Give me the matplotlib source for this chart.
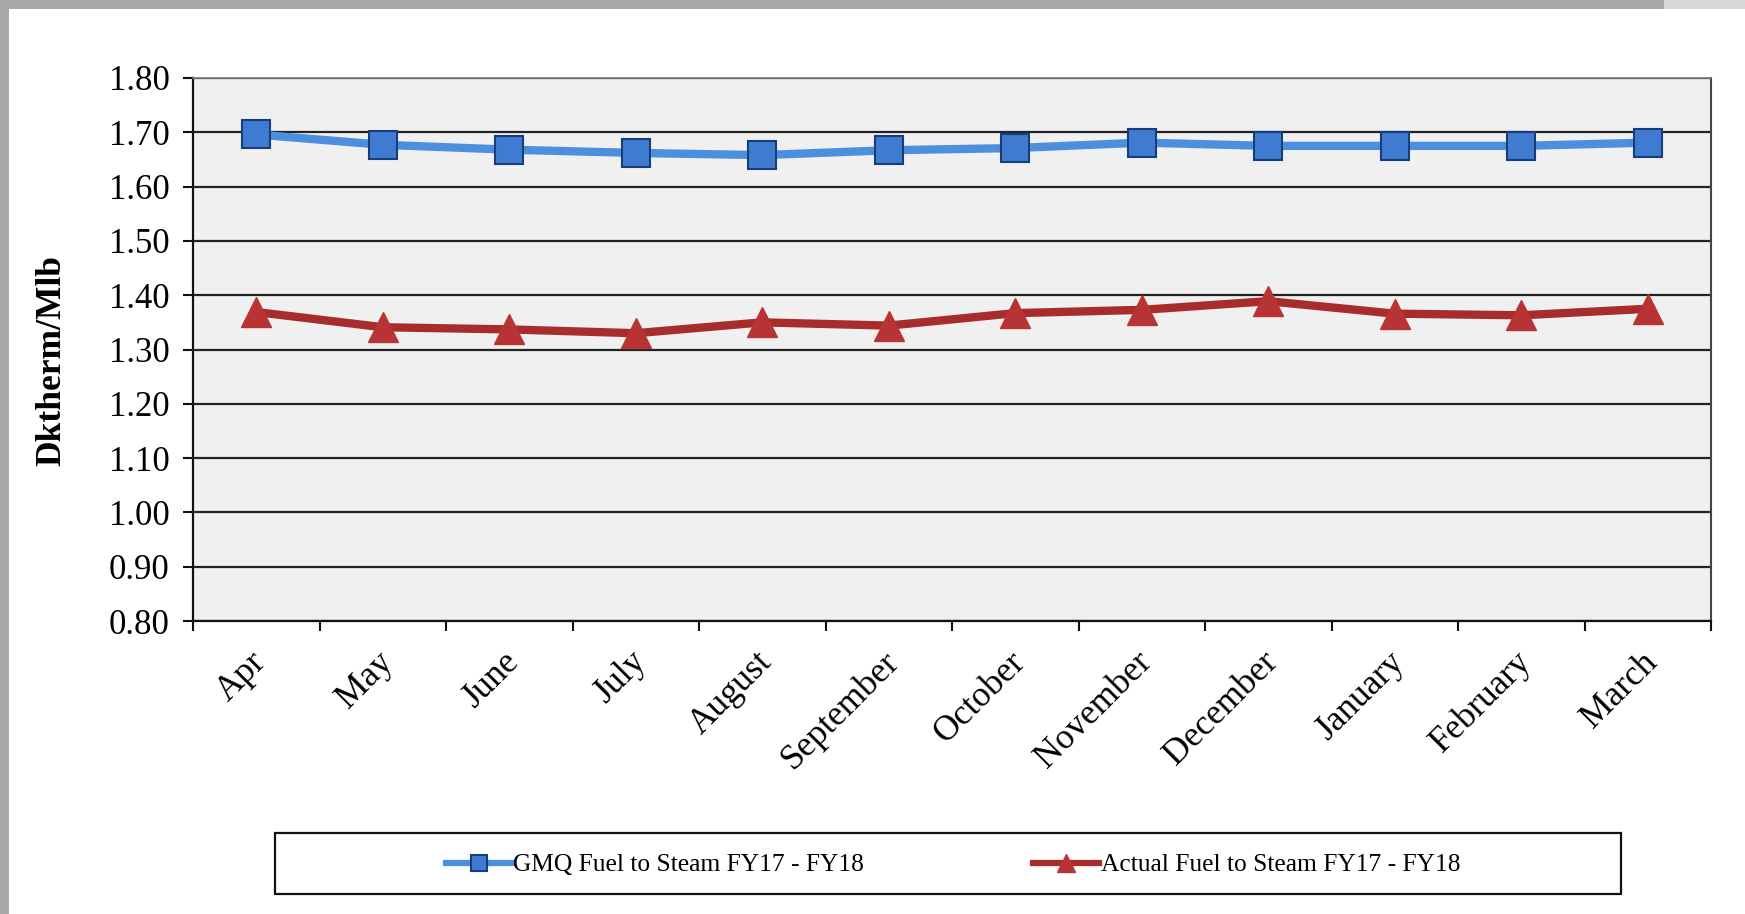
import matplotlib.pyplot as plt
import matplotlib.transforms as mtransforms
from matplotlib.patches import Rectangle

months = ['Apr', 'May', 'June', 'July', 'August', 'September', 'October',
          'November', 'December', 'January', 'February', 'March']
gmq = [1.696, 1.677, 1.668, 1.662, 1.658, 1.667, 1.671, 1.681, 1.675, 1.675, 1.675, 1.681]
actual = [1.369, 1.341, 1.337, 1.330, 1.350, 1.344, 1.367, 1.373, 1.389, 1.366, 1.363, 1.375]
yticks = [0.80, 0.90, 1.00, 1.10, 1.20, 1.30, 1.40, 1.50, 1.60, 1.70, 1.80]

plt.rcParams['font.family'] = ['Liberation Serif', 'DejaVu Serif']

W, H = 1745, 914
fig = plt.figure(figsize=(W / 100, H / 100), dpi=100)
fig.patch.set_facecolor('white')

# grey window border (top and left)
fig.patches.append(Rectangle((0, 1 - 9 / H), 1664 / W, 9 / H, transform=fig.transFigure,
                             facecolor='#a9a9a9', edgecolor='none', zorder=-2))
fig.patches.append(Rectangle((1664 / W, 1 - 9 / H), 1 - 1664 / W, 9 / H, transform=fig.transFigure,
                             facecolor='#d8d8d8', edgecolor='none', zorder=-2))
fig.patches.append(Rectangle((0, 0), 9 / W, 1, transform=fig.transFigure,
                             facecolor='#a9a9a9', edgecolor='none', zorder=-2))

ax = fig.add_axes([193 / W, 1 - 621 / H, (1711 - 193) / W, (621 - 78) / H])
ax.set_facecolor('#f0f0f0')

x = list(range(len(months)))
ax.plot(x, gmq, color='#4d8fdf', lw=6, marker='s', markersize=20,
        markerfacecolor='#3f7bd0', markeredgecolor='#173d7a', markeredgewidth=1.5,
        label='GMQ Fuel to Steam FY17 - FY18', zorder=4)
ax.plot(x, actual, color='#a82c2c', lw=6, marker='^', markersize=22,
        markerfacecolor='#b83434', markeredgecolor='#b83434',
        label='Actual Fuel to Steam FY17 - FY18', zorder=4)

ax.set_xlim(-0.5, len(months) - 0.5)
ax.set_ylim(0.80, 1.80)
ax.set_yticks(yticks)
ax.set_yticklabels([f'{v:.2f}' for v in yticks])
ax.yaxis.grid(True, color='#222222', lw=1.6, zorder=1)
ax.set_axisbelow(True)

# category ticks sit between the months
ax.set_xticks([i - 0.5 for i in range(len(months) + 1)], minor=False)
ax.set_xticklabels([])
ax.set_xticks(x, minor=True)
ax.set_xticklabels(months, minor=True, rotation=45, ha='right', va='center',
                   rotation_mode='anchor', fontsize=25.5)
ax.tick_params(axis='x', which='minor', length=0, pad=26)
offset = mtransforms.ScaledTranslation(5 / 100, 0, fig.dpi_scale_trans)
for lab in ax.get_xticklabels(minor=True):
    lab.set_transform(lab.get_transform() + offset)

ax.tick_params(axis='both', which='major', direction='out', length=7, width=1.5,
               color='#111111', labelsize=25)
ax.tick_params(axis='y', pad=10)

for side in ['left', 'bottom']:
    ax.spines[side].set_color('#111111')
    ax.spines[side].set_linewidth(1.6)
ax.spines['top'].set_color('#777777')
ax.spines['top'].set_linewidth(1.2)
ax.spines['right'].set_color('#444444')
ax.spines['right'].set_linewidth(1.5)

fig.text(52 / W, 1 - 361 / H, 'Dktherm/Mlb', rotation=90, fontsize=25.5,
         fontweight='bold', ha='center', va='center')

# legend box
fig.patches.append(Rectangle((275 / W, 1 - 894 / H), (1621 - 275) / W, (894 - 833) / H,
                             transform=fig.transFigure, facecolor='white',
                             edgecolor='#111111', lw=1.6, zorder=-1))
leg = ax.legend(loc='center', bbox_to_anchor=(953 / W, 1 - 865 / H),
                bbox_transform=fig.transFigure, ncol=2, frameon=False,
                fontsize=18.4, handlelength=2.6, handletextpad=0.05,
                columnspacing=6.6, markerscale=0.6)
for line in leg.get_lines():
    line.set_linewidth(4.5)

fig.savefig('out.png', dpi=100)
